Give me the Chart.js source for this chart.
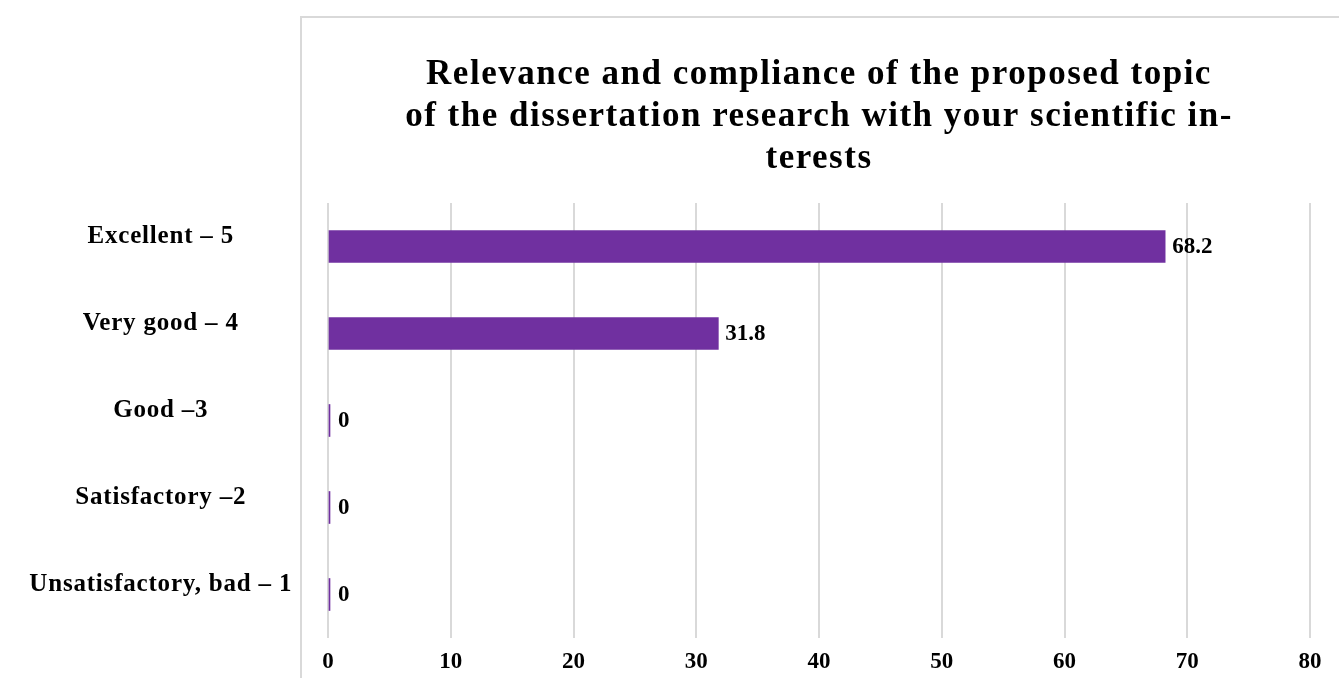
<!DOCTYPE html>
<html>
<head>
<meta charset="utf-8">
<script src="https://cdn.jsdelivr.net/npm/chart.js@4/dist/chart.umd.min.js"></script>
<style>
html,body{margin:0;padding:0;background:#fff;}
#wrap{width:1339px;height:678px;position:relative;}
</style>
</head>
<body>
<div id="wrap"><canvas id="c" width="1339" height="678"></canvas></div>
<script>
const categories = ["Excellent – 5", "Very good – 4", "Good –3", "Satisfactory –2", "Unsatisfactory, bad – 1"];
const values = [68.2, 31.8, 0, 0, 0];
const titleLines = ["Relevance and compliance of the proposed topic", "of the dissertation research with your scientific in-", "terests"];
const xMin = 0, xMax = 80, xStep = 10;

const FONT = "'Liberation Serif', 'Times New Roman', serif";
const PURPLE = '#7030a0';
const GRID = '#d9d9d9';

const framePlugin = {
  id: 'frame',
  beforeDraw(chart) {
    const ctx = chart.ctx;
    ctx.save();
    ctx.strokeStyle = GRID;
    ctx.lineWidth = 2;
    ctx.beginPath();
    ctx.moveTo(301, chart.height);
    ctx.lineTo(301, 17);
    ctx.lineTo(chart.width, 17);
    ctx.stroke();
    ctx.restore();
  }
};

const valueLabels = {
  id: 'valueLabels',
  afterDatasetsDraw(chart) {
    const ctx = chart.ctx;
    const meta = chart.getDatasetMeta(0);
    ctx.save();
    ctx.font = "bold 23px " + FONT;
    ctx.fillStyle = '#000';
    ctx.textAlign = 'left';
    ctx.textBaseline = 'middle';
    meta.data.forEach((bar, i) => {
      const v = chart.data.datasets[0].data[i];
      const xEnd = Math.max(bar.x, bar.base + 2);
      ctx.fillText(String(v), xEnd + 7, bar.y + 1);
    });
    ctx.restore();
  }
};

const chart = new Chart(document.getElementById('c'), {
  type: 'bar',
  data: {
    labels: categories,
    datasets: [{
      data: values,
      backgroundColor: PURPLE,
      barThickness: 32,
      minBarLength: 2
    }]
  },
  plugins: [framePlugin, valueLabels],
  options: {
    indexAxis: 'y',
    responsive: false,
    animation: false,
    layout: { padding: { top: 54, right: 29, bottom: 2, left: 0 } },
    plugins: {
      legend: { display: false },
      tooltip: { enabled: false },
      title: {
        display: true,
        text: titleLines,
        fullSize: false,
        color: '#000',
        font: { family: FONT, size: 35, weight: 'bold', lineHeight: 1.2 },
        padding: { top: 0, bottom: 23 }
      }
    },
    scales: {
      x: {
        min: xMin, max: xMax,
        afterFit(scale) {
          scale.height = 38;
        },
        ticks: {
          stepSize: xStep,
          color: '#000',
          font: { family: FONT, size: 23, weight: 'bold' },
          padding: 10
        },
        grid: { color: GRID, lineWidth: 2, drawTicks: false },
        border: { display: false }
      },
      y: {
        afterFit(scale) {
          scale.width = 328;
          scale.paddingTop = 0;
          scale.paddingBottom = 0;
        },
        ticks: {
          color: '#000',
          crossAlign: 'center',
          labelOffset: -10,
          padding: 45,
          font: { family: FONT, size: 25, weight: 'bold' }
        },
        grid: { display: false, drawTicks: false },
        border: { display: false }
      }
    }
  }
});

// Wider letter spacing for the title and category labels, as in the reference
function withSpacing(obj, name, spacing) {
  const orig = obj[name].bind(obj);
  obj[name] = function (...args) {
    const ctx = chart.ctx;
    ctx.save();
    ctx.letterSpacing = spacing;
    orig(...args);
    ctx.restore();
  };
}
if (chart.titleBlock) withSpacing(chart.titleBlock, 'draw', '1.5px');
withSpacing(chart.scales.y, 'drawLabels', '0.8px');
chart.draw();
</script>
</body>
</html>
